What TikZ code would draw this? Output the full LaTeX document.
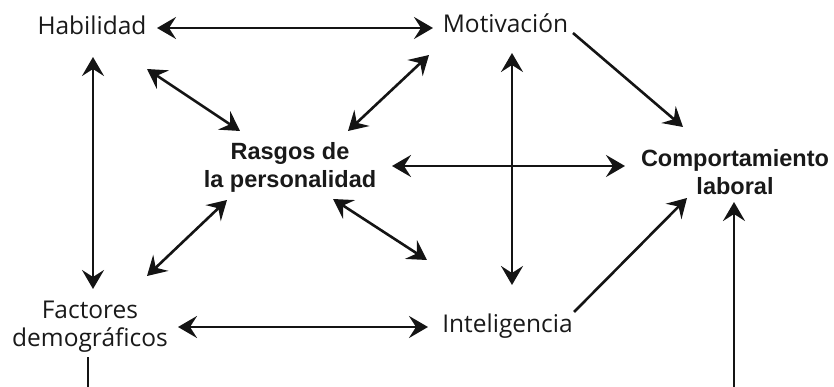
\documentclass[tikz,border=0pt]{standalone}
\usepackage{fontspec}
\setmainfont{Open Sans}
\newfontfamily\boldsans{Liberation Sans}
\usetikzlibrary{arrows.meta}
\tikzset{
  lbl/.style={inner sep=0pt, font=\fontsize{24.5}{28}\selectfont, text=black!90, align=center},
  blbl/.style={inner sep=0pt, font=\fontsize{23.5}{28}\selectfont\boldsans\bfseries, text=black!90, align=center},
  conn/.style={line width=2.6pt, black!92, -{Stealth[length=19pt,width=22pt,inset=7pt]}},
  dbl/.style={line width=2.6pt, black!92, {Stealth[length=19pt,width=22pt,inset=7pt]}-{Stealth[length=19pt,width=22pt,inset=7pt]}},
  plain/.style={line width=2.6pt, black!92}
}
\begin{document}
\begin{tikzpicture}[x=1pt,y=-1pt]
\useasboundingbox (0,0) rectangle (834,387);
% nodes
\node[lbl, anchor=base] (hab) at (92,35) {Habilidad};
\node[lbl, anchor=base] (mot) at (505.5,33) {Motivación};
\node[lbl, anchor=base] (intel) at (507.5,332) {Inteligencia};
\node[lbl] (fac) at (90,327) {Factores\\demográficos};
\node[blbl] (ras) at (290,167) {Rasgos de\\la personalidad};
\node[blbl] (comp) at (735,172.5) {Comportamiento\\laboral};
% connector end points
\coordinate (habR) at (157,28);
\coordinate (motL) at (433,28);
\coordinate (habD) at (93,57);
\coordinate (facU) at (93,289);
\coordinate (habSE) at (147,69);
\coordinate (rasNW) at (240,131);
\coordinate (motSW) at (429,55);
\coordinate (rasNE) at (348,131);
\coordinate (rasSW) at (227,200);
\coordinate (facNE) at (147,276);
\coordinate (rasSE) at (333,199);
\coordinate (intNW) at (427,260);
\coordinate (motD) at (512,53);
\coordinate (intU) at (512,285);
\coordinate (rasE) at (392,166);
\coordinate (compW) at (625,166);
\coordinate (motSE) at (573,33);
\coordinate (compNW) at (683,127);
\coordinate (intNE) at (574,312);
\coordinate (compSW) at (687,198);
\coordinate (facR) at (178,327);
\coordinate (intL) at (428,327);
\coordinate (facD) at (88,357);
\coordinate (facBot) at (88,388);
\coordinate (compBot) at (734,388);
\coordinate (compS) at (734,202);
% connectors
\draw[dbl] (habR) -- (motL);
\draw[dbl] (habD) -- (facU);
\draw[dbl] (habSE) -- (rasNW);
\draw[dbl] (motSW) -- (rasNE);
\draw[dbl] (rasSW) -- (facNE);
\draw[dbl] (rasSE) -- (intNW);
\draw[dbl] (motD) -- (intU);
\draw[dbl] (rasE) -- (compW);
\draw[conn] (motSE) -- (compNW);
\draw[conn] (intNE) -- (compSW);
\draw[dbl] (facR) -- (intL);
\draw[plain] (facD) -- (facBot);
\draw[conn] (compBot) -- (compS);
\end{tikzpicture}
\end{document}
